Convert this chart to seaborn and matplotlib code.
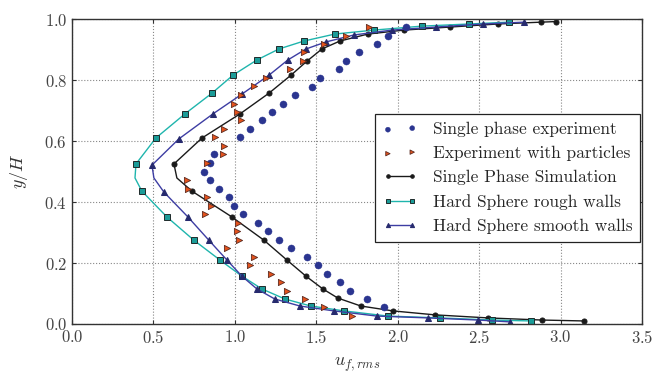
import numpy as np
import pandas as pd
import seaborn as sns
import matplotlib
matplotlib.use('Agg')
import matplotlib.pyplot as plt

# single phase experiment (circles)
sp_exp_u = [1.914, 1.810, 1.706, 1.644, 1.564, 1.509, 1.442, 1.344, 1.270, 1.202, 1.141, 1.049,
            0.994, 0.963, 0.902, 0.847, 0.810, 0.847, 0.871, 1.031, 1.092, 1.166, 1.227, 1.294,
            1.368, 1.472, 1.521, 1.638, 1.681, 1.761, 1.871, 1.939, 2.049]
sp_exp_y = [0.056, 0.082, 0.108, 0.138, 0.164, 0.193, 0.220, 0.249, 0.275, 0.305, 0.331, 0.361,
            0.387, 0.416, 0.443, 0.472, 0.498, 0.528, 0.557, 0.613, 0.639, 0.669, 0.695, 0.721,
            0.751, 0.777, 0.807, 0.836, 0.862, 0.892, 0.918, 0.944, 0.974]

# experiment with particles (triangles)
pt_exp_u = [1.718, 1.546, 1.429, 1.319, 1.282, 1.221, 1.092, 1.117, 0.951, 1.025, 1.012, 1.018,
            0.816, 0.853, 0.828, 0.712, 0.706, 0.828, 0.926, 0.933, 0.877, 0.933, 1.037, 1.012,
            0.994, 1.037, 1.117, 1.190, 1.337, 1.417, 1.423, 1.546, 1.681, 1.822]
pt_exp_y = [0.026, 0.056, 0.082, 0.108, 0.138, 0.164, 0.193, 0.220, 0.249, 0.275, 0.305, 0.331,
            0.361, 0.387, 0.416, 0.443, 0.472, 0.528, 0.557, 0.584, 0.613, 0.639, 0.669, 0.695,
            0.721, 0.751, 0.780, 0.807, 0.836, 0.862, 0.892, 0.918, 0.944, 0.974]

# single phase simulation (the 14th vertex is the unmarked bend of the curve)
sim_u = [3.141, 2.883, 2.552, 2.227, 1.969, 1.773, 1.632, 1.540, 1.436, 1.319, 1.178, 0.982,
         0.736, 0.644, 0.626, 0.798, 1.031, 1.209, 1.344, 1.442, 1.534, 1.644, 1.816, 2.037,
         2.319, 2.613, 2.877, 2.970]
sim_y = [0.010, 0.013, 0.020, 0.030, 0.043, 0.059, 0.085, 0.115, 0.157, 0.210, 0.275, 0.351,
         0.436, 0.479, 0.525, 0.610, 0.689, 0.757, 0.816, 0.862, 0.902, 0.928, 0.951, 0.964,
         0.974, 0.984, 0.990, 0.992]

# hard sphere rough walls
rough_u = [2.816, 2.577, 2.258, 1.939, 1.669, 1.466, 1.307, 1.166, 1.043, 0.908, 0.748, 0.583,
           0.429, 0.387, 0.393, 0.515, 0.693, 0.859, 0.988, 1.135, 1.270, 1.423, 1.613, 1.853,
           2.147, 2.436, 2.681]
rough_y = [0.010, 0.013, 0.020, 0.026, 0.043, 0.059, 0.082, 0.115, 0.157, 0.210, 0.275, 0.351,
           0.436, 0.479, 0.525, 0.610, 0.689, 0.757, 0.816, 0.866, 0.902, 0.928, 0.951, 0.964,
           0.977, 0.984, 0.990]

# hard sphere smooth walls
smooth_u = [2.687, 2.491, 2.184, 1.871, 1.607, 1.399, 1.245, 1.135, 1.043, 0.951, 0.840, 0.712,
            0.564, 0.503, 0.491, 0.656, 0.865, 1.043, 1.209, 1.325, 1.436, 1.558, 1.730, 1.963,
            2.233, 2.521, 2.773]
smooth_y = [0.007, 0.013, 0.020, 0.026, 0.043, 0.059, 0.082, 0.115, 0.157, 0.210, 0.275, 0.351,
            0.433, 0.479, 0.521, 0.607, 0.689, 0.754, 0.816, 0.866, 0.902, 0.925, 0.948, 0.964,
            0.974, 0.984, 0.990]

bend = 13  # index of the unmarked vertex in the three simulated curves

sns.set_style('ticks')
plt.rcParams['font.family'] = ['cmr10', 'DejaVu Serif']
plt.rcParams['mathtext.fontset'] = 'cm'
plt.rcParams['axes.formatter.use_mathtext'] = True

fig = plt.figure(figsize=(6.54, 3.75), dpi=100)
ax = fig.add_axes([0.110, 0.136, 0.872, 0.813])

sns.scatterplot(x=sp_exp_u, y=sp_exp_y, ax=ax, marker='o', s=26, color='#2b3590',
                edgecolor='#2b3590', linewidth=0.3, label='Single phase experiment', zorder=3)
sns.scatterplot(x=pt_exp_u, y=pt_exp_y, ax=ax, marker='>', s=20, color='#e4521c',
                edgecolor='#5a2a20', linewidth=0.6, label='Experiment with particles', zorder=3)

def marks(n):
    return [i for i in range(n) if i != bend]

sns.lineplot(x=sim_u, y=sim_y, ax=ax, sort=False, estimator=None, color='#1a1a1a', lw=1.0,
             marker='o', markersize=3.6, markeredgecolor='#1a1a1a', markevery=marks(len(sim_u)),
             label='Single Phase Simulation')
sns.lineplot(x=rough_u, y=rough_y, ax=ax, sort=False, estimator=None, color='#1fb5ad', lw=1.0,
             marker='s', markersize=4.3, markerfacecolor='#1a9c98', markeredgecolor='#1f2a2a',
             markeredgewidth=0.7, markevery=marks(len(rough_u)), label='Hard Sphere rough walls')
sns.lineplot(x=smooth_u, y=smooth_y, ax=ax, sort=False, estimator=None, color='#3d3da3', lw=1.0,
             marker='^', markersize=4.3, markerfacecolor='#262a6e', markeredgecolor='#262a6e',
             markevery=marks(len(smooth_u)), label='Hard Sphere smooth walls')

ax.set_xlim(0, 3.5)
ax.set_ylim(0, 1.0)
ax.set_xticks(np.arange(0, 3.51, 0.5))
ax.set_yticks(np.arange(0, 1.01, 0.2))
ax.grid(True, linestyle=':', color='#888888', linewidth=0.8)
ax.tick_params(direction='in', length=3, top=True, right=True, labelsize=12, colors='#333333',
               labelcolor='#444444')
for s in ax.spines.values():
    s.set_color('#333333')
    s.set_linewidth(1.0)

ax.set_xlabel(r'$u_{f,rms}$', fontsize=13, color='#333333', labelpad=7)
ax.set_ylabel(r'$y/H$', fontsize=13, color='#333333', labelpad=10)

leg = ax.legend(loc='upper left', bbox_to_anchor=(0.516, 0.717), fontsize=12.5, numpoints=2,
                scatterpoints=2, markerscale=0.7, handlelength=2.0, handletextpad=0.9,
                labelspacing=0.5, fancybox=False, framealpha=1, edgecolor='#222222',
                borderpad=0.45)
leg.get_frame().set_linewidth(0.9)

fig.savefig('out.png', dpi=100)
